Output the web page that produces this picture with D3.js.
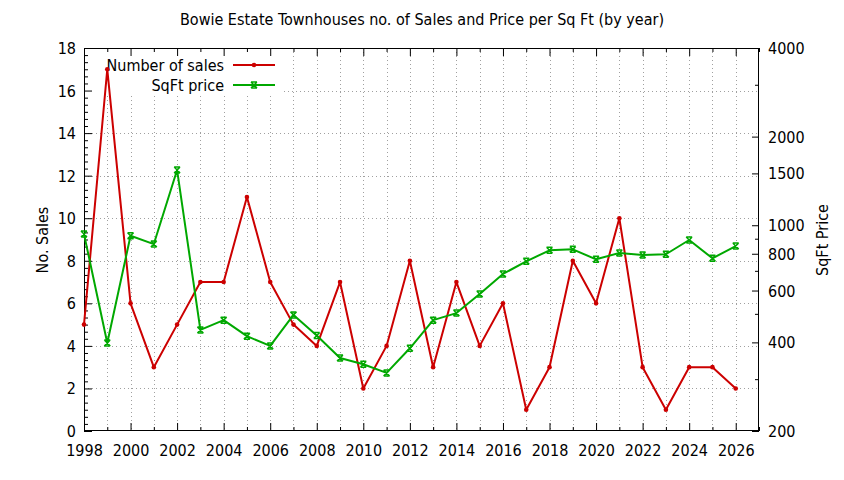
<!DOCTYPE html>
<html><head><meta charset="utf-8">
<script src="https://cdn.jsdelivr.net/npm/d3@7"></script>
<style>body{margin:0;background:#fff}svg{display:block}</style>
</head><body>
<svg id="c" width="844" height="480"></svg>
<script>
const years = [1998,1999,2000,2001,2002,2003,2004,2005,2006,2007,2008,2009,2010,2011,2012,2013,2014,2015,2016,2017,2018,2019,2020,2021,2022,2023,2024,2025,2026];
const sales = [5,17,6,3,5,7,7,11,7,5,4,7,2,4,8,3,7,4,6,1,3,8,6,10,3,1,3,3,2];
const sqftPrice = [934,398,921,863,1540,441,476,420,389,496,422,354,337,315,382,476,503,584,683,754,822,828,766,805,792,797,891,772,850];
const xTickLabels = [1998,2000,2002,2004,2006,2008,2010,2012,2014,2016,2018,2020,2022,2024,2026];
const yTickLabels = [0,2,4,6,8,10,12,14,16,18];
const y2TickLabels = [200,400,600,800,1000,1500,2000,4000];
const y2MinorTicks = [300,500,700,900,3000];
const title = "Bowie Estate Townhouses no. of Sales and Price per Sq Ft (by year)";

const font = "'DejaVu Sans Condensed', 'DejaVu Sans', sans-serif";
const FS = "16px";
const svg = d3.select("#c");
const L=84, R=759, T=48, B=431;
const x = d3.scaleLinear().domain([1998,2027]).range([L,R]);
const y = d3.scaleLinear().domain([0,18]).range([B,T]);
const y2 = d3.scaleLog().domain([200,4000]).range([B,T]);
const red = "#cc0000", green = "#00a800";

// grid
const grid = svg.append("g").attr("stroke","#a0a0a0").attr("stroke-width",1).attr("stroke-dasharray","1,3");
d3.range(1999,2027).forEach(v=>{
  grid.append("line").attr("x1",Math.round(x(v))+0.5).attr("x2",Math.round(x(v))+0.5).attr("y1",T).attr("y2",B);
});
yTickLabels.filter(v=>v>0&&v<18).forEach(v=>{
  grid.append("line").attr("x1",L).attr("x2",R).attr("y1",Math.round(y(v))+0.5).attr("y2",Math.round(y(v))+0.5);
});

// opaque legend box (covers grid)
svg.append("rect").attr("x",L+1).attr("y",T+1).attr("width",282-L-1).attr("height",94-T-1).attr("fill","#fff");

const txt = (g)=>g.selectAll("text").attr("font-family",font).attr("font-size",FS).attr("fill","#000");
const clean = (g)=>{g.select(".domain").remove(); g.selectAll("line").attr("stroke","#000");};

const xMajor = d3.range(1998,2028,2);
const xMinor = d3.range(1999,2028,2);
const bottomAxis = svg.append("g").attr("transform",`translate(0,${B})`)
  .call(d3.axisBottom(x).tickValues(xMajor).tickSize(-8).tickPadding(13).tickFormat(d=>xTickLabels.includes(d)?d:""))
  .call(clean).call(txt);
bottomAxis.selectAll("text").attr("dy",null).attr("dominant-baseline","hanging");
svg.append("g").attr("transform",`translate(0,${B})`)
  .call(d3.axisBottom(x).tickValues(xMinor).tickSize(-4).tickFormat("")).call(clean);
svg.append("g").attr("transform",`translate(0,${T})`)
  .call(d3.axisTop(x).tickValues(xMajor).tickSize(-8).tickFormat("")).call(clean);
svg.append("g").attr("transform",`translate(0,${T})`)
  .call(d3.axisTop(x).tickValues(xMinor).tickSize(-4).tickFormat("")).call(clean);

const leftAxis = svg.append("g").attr("transform",`translate(${L},0)`)
  .call(d3.axisLeft(y).tickValues(yTickLabels).tickSize(-8).tickPadding(8))
  .call(clean).call(txt);
leftAxis.selectAll("text").attr("dy",null).attr("dominant-baseline","central");
const yMinor = d3.range(0,18*3+1).map(k=>k/3).filter(v=>Math.abs(v/2-Math.round(v/2))>1e-6);
svg.append("g").attr("transform",`translate(${L},0)`)
  .call(d3.axisLeft(y).tickValues(yMinor).tickSize(-4).tickFormat("")).call(clean);

const rightAxis = svg.append("g").attr("transform",`translate(${R},0)`)
  .call(d3.axisRight(y2).tickValues(y2TickLabels).tickSize(-7).tickPadding(9).tickFormat(d3.format("d")))
  .call(clean).call(txt);
rightAxis.selectAll("text").attr("dy",null).attr("dominant-baseline","central");
svg.append("g").attr("transform",`translate(${R},0)`)
  .call(d3.axisRight(y2).tickValues(y2MinorTicks).tickSize(-4).tickFormat("")).call(clean);

svg.append("rect").attr("x",L+0.5).attr("y",T+0.5).attr("width",R-L-1).attr("height",B-T-1)
  .attr("fill","none").attr("stroke","#000").attr("stroke-width",1);

// legend
const lg = svg.append("g").attr("font-family",font).attr("font-size",FS);
lg.append("text").attr("x",224).attr("y",65).attr("text-anchor","end").attr("dominant-baseline","central").text("Number of sales");
lg.append("line").attr("x1",233).attr("x2",275).attr("y1",65).attr("y2",65).attr("stroke",red).attr("stroke-width",2);
lg.append("text").attr("x",224).attr("y",85).attr("text-anchor","end").attr("dominant-baseline","central").text("SqFt price");
lg.append("line").attr("x1",233).attr("x2",275).attr("y1",85).attr("y2",85).attr("stroke",green).attr("stroke-width",2);

// series
const lineS = d3.line().x((d,i)=>x(years[i])).y(d=>y(d));
const lineP = d3.line().x((d,i)=>x(years[i])).y(d=>y2(d));
svg.append("path").datum(sales).attr("d",lineS).attr("fill","none").attr("stroke",red).attr("stroke-width",2).attr("stroke-linejoin","round");
svg.append("path").datum(sqftPrice).attr("d",lineP).attr("fill","none").attr("stroke",green).attr("stroke-width",2).attr("stroke-linejoin","round");

function dot(g,cx,cy){g.append("circle").attr("cx",cx).attr("cy",cy).attr("r",2.3).attr("fill",red);}
function star(g,cx,cy){
  const s=3;
  g.append("path").attr("d",`M${cx-s},${cy-s}L${cx+s},${cy+s}M${cx-s},${cy+s}L${cx+s},${cy-s}M${cx-s},${cy-s}H${cx+s}M${cx-s},${cy+s}H${cx+s}`)
   .attr("stroke",green).attr("stroke-width",1.5).attr("fill","none");
}
const ms = svg.append("g");
sales.forEach((d,i)=>dot(ms,x(years[i]),y(d)));
sqftPrice.forEach((d,i)=>star(ms,x(years[i]),y2(d)));
dot(ms,254,65);
star(ms,254,85);

// titles
svg.append("text").attr("x",422).attr("y",19).attr("text-anchor","middle").attr("dominant-baseline","central")
  .attr("font-family",font).attr("font-size",FS).text(title);
svg.append("text").attr("transform","translate(42,240) rotate(-90)").attr("text-anchor","middle").attr("dominant-baseline","central")
  .attr("font-family",font).attr("font-size",FS).text("No. Sales");
svg.append("text").attr("transform","translate(822,240) rotate(-90)").attr("text-anchor","middle").attr("dominant-baseline","central")
  .attr("font-family",font).attr("font-size",FS).text("SqFt Price");
</script>
</body></html>
